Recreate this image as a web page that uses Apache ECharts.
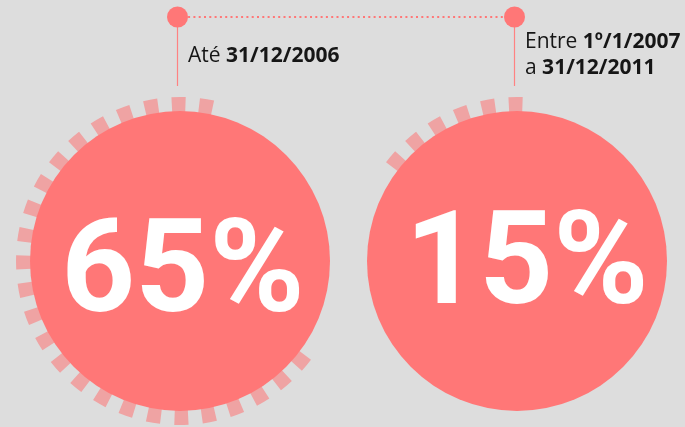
<!DOCTYPE html>
<html><head><meta charset="utf-8">
<script src="https://cdn.jsdelivr.net/npm/echarts@6/dist/echarts.min.js"></script>
<style>html,body{margin:0;padding:0;background:#dddddd;}#main{width:685px;height:427px;}</style>
</head><body><div id="main"></div>
<script>
// ---- data ----
const periodKeys = ['p1', 'p2'];
const periodLabels = ['Até {b|31/12/2006}', 'Entre {b|1º/1/2007}\na {b|31/12/2011}'];
const percentValues = [65, 15];

// ---- style / layout ----
const RED = '#ff7777';
const TICK = '#efa3a3';
const TEXT = '#161616';
const centers = [[180, 261], [517, 261]];
const dotX = [177.5, 514.5];
const labelY = [56, 55];
const ringStart = [78, 88];       // ECharts angle of first tick edge (counter-clockwise run)
const TICKS_PER_FULL = 38;        // ticks lit per 100%
const bigOffset = [[3, 18], [10, 10]];

function ringData(v) {
  const lit = Math.round(v / 100 * TICKS_PER_FULL);
  const arr = [];
  for (let i = 0; i < 36; i++) {
    arr.push({ value: 1, itemStyle: { color: i < lit ? TICK : 'rgba(0,0,0,0)' } });
    arr.push({ value: 1, itemStyle: { color: 'rgba(0,0,0,0)' } });
  }
  return arr;
}

const series = [];
percentValues.forEach((v, i) => {
  series.push({
    type: 'pie', silent: true, animation: false, clockwise: false,
    startAngle: ringStart[i], center: centers[i], radius: [128, 164],
    label: { show: false }, labelLine: { show: false }, emphasis: { disabled: true },
    data: ringData(v), z: 1
  });
  series.push({
    type: 'pie', silent: true, animation: false,
    center: centers[i], radius: [0, 150],
    emphasis: { disabled: true }, labelLine: { show: false },
    label: {
      show: true, position: 'center', color: '#ffffff',
      fontFamily: 'Roboto', fontWeight: 'bold', fontSize: 129,
      offset: bigOffset[i],
      formatter: p => p.value + '%'
    },
    itemStyle: { color: RED },
    data: [{ value: v, name: periodKeys[i] }], z: 2
  });
});

series.push({
  type: 'line', silent: true, animation: false,
  xAxisIndex: 0, yAxisIndex: 0,
  symbol: 'circle', symbolSize: 21,
  itemStyle: { color: RED },
  lineStyle: { color: RED, width: 2, type: [2, 3.3] },
  data: periodKeys.map(() => 1), z: 5
});

const graphics = [];
periodKeys.forEach((k, i) => {
  graphics.push({
    type: 'line', silent: true, z: 3,
    shape: { x1: dotX[i], y1: 17, x2: dotX[i], y2: 86 },
    style: { stroke: '#ff8282', lineWidth: 1.2 }
  });
  graphics.push({
    type: 'text', silent: true, z: 10,
    x: dotX[i] + 10.5, y: labelY[i],
    style: {
      text: periodLabels[i], fill: TEXT,
      font: '21px "Open Sans"', verticalAlign: 'middle', align: 'left',
      lineHeight: 26.5,
      rich: { b: { fontWeight: 'bold', fontSize: 21, fontFamily: 'Open Sans', fill: TEXT, lineHeight: 26.5 } }
    }
  });
});

const chart = echarts.init(document.getElementById('main'), null, { renderer: 'canvas' });
chart.setOption({
  backgroundColor: '#dddddd',
  animation: false,
  grid: { left: 9, width: 674, top: 17, height: 100 },
  xAxis: { type: 'category', data: periodKeys, show: false, boundaryGap: true },
  yAxis: { type: 'value', min: 0, max: 1, show: false },
  series: series,
  graphic: graphics
});
</script></body></html>
